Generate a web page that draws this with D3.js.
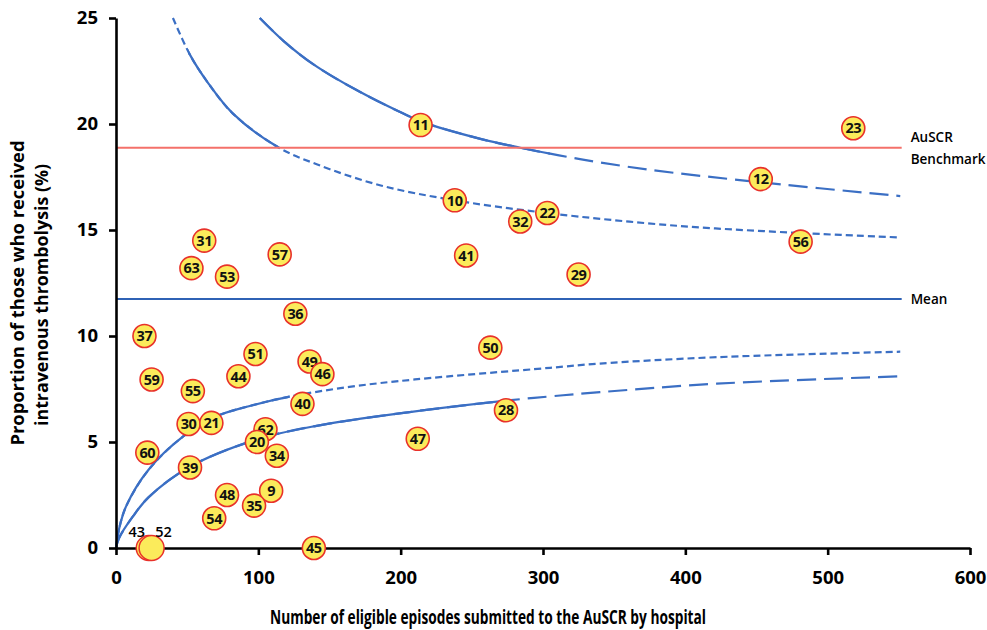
<!DOCTYPE html>
<html>
<meta charset="utf-8">
<style>
  body { margin: 0; background: #fff; }
  text { font-family: "Open Sans", "DejaVu Sans", sans-serif; }
</style>

<body>
  <svg></svg>
</body>

<script src="https://d3js.org/d3.v7.min.js"></script>

<script>

  var W = 987, H = 630;

  // hospitals: id, eligible episodes, % thrombolysed
  var hospitalIds = [11, 23, 12, 10, 22, 32, 56, 31, 63, 53, 57, 41, 29, 36, 37, 50, 51, 49, 46, 44,
    59, 55, 40, 28, 30, 21, 62, 20, 47, 60, 34, 39, 9, 48, 35, 54, 45];
  var episodes = [214, 518, 453, 238, 303, 284, 481, 62, 53, 78, 115, 246, 325, 126, 20, 263, 98, 136, 145, 86,
    25, 54, 131, 274, 51, 67, 105, 99, 212, 22, 113, 52, 109, 78, 97, 69, 139];
  var proportions = [19.95, 19.8, 17.4, 16.4, 15.8, 15.4, 14.45, 14.5, 13.2, 12.8, 13.85, 13.8, 12.9, 11.05, 10.0, 9.45, 9.15, 8.8, 8.2, 8.1,
    7.95, 7.4, 6.8, 6.5, 5.85, 5.9, 5.6, 5.0, 5.15, 4.5, 4.35, 3.8, 2.7, 2.5, 2.0, 1.4, 0];

  // the two zero-rate hospitals drawn together, labels above
  var zeroIds = [43, 52];
  var zeroEpisodes = [23, 25];

  var meanRate = 11.75;
  var benchmarkRate = 18.88;
  var refLineEnd = 552;

  // funnel limits [episodes, %]
  var upperOuter = [[101, 25.0], [118, 23.9], [139, 22.8], [169, 21.6], [200, 20.55], [215, 20.1], [256, 19.3],
    [284, 18.88], [305, 18.6], [328, 18.32], [375, 17.84], [453, 17.25], [551, 16.6]];
  var upperInner = [[40, 25.0], [52, 23.26], [64, 22.0], [82, 20.5], [114, 18.9], [141, 18.1], [186, 17.1],
    [238, 16.4], [303, 15.8], [394, 15.2], [483, 14.85], [551, 14.65]];
  var lowerInner = [[0, 0], [2, 0.85], [7, 1.95], [23, 3.7], [47, 5.25], [70, 6.2], [94, 6.7], [122, 7.14],
    [164, 7.6], [210, 7.95], [305, 8.5], [340, 8.7], [422, 9.0], [551, 9.26]];
  var lowerOuter = [[0, 0], [2, 0.45], [12, 1.5], [23, 2.4], [51, 3.8], [98, 5.1], [140, 5.75], [205, 6.4],
    [274, 6.95], [305, 7.15], [340, 7.35], [422, 7.75], [551, 8.1]];

  var xTicks = [0, 100, 200, 300, 400, 500, 600];
  var yTicks = [0, 5, 10, 15, 20, 25];

  var svg = d3.select("svg")
    .attr("width", W)
    .attr("height", H);

  var x = d3.scaleLinear().domain([0, 600]).range([116, 970]);
  var y = d3.scaleLinear().domain([0, 25]).range([548, 18]);

  var blue = "#3b6fc4";

  var line = d3.line()
    .x(d => x(d[0]))
    .y(d => y(d[1]))
    .curve(d3.curveCatmullRom.alpha(0.5));

  // dashed full curve, plus the same curve solid inside an x window
  var curves = [
    { pts: upperOuter, dash: "19,8", solid: [0, 305] },
    { pts: upperInner, dash: "7,4", solid: [52, 114] },
    { pts: lowerInner, dash: "7,4", solid: [0, 122] },
    { pts: lowerOuter, dash: "19,8", solid: [0, 274] }
  ];

  var defs = svg.append("defs");

  curves.forEach(function(c, i) {
    defs.append("clipPath").attr("id", "solid" + i)
      .append("rect")
      .attr("x", x(c.solid[0]) - 2).attr("y", 0)
      .attr("width", x(c.solid[1]) - x(c.solid[0]) + 2).attr("height", H);

    svg.append("path")
      .attr("d", line(c.pts))
      .attr("fill", "none")
      .attr("stroke", blue)
      .attr("stroke-width", 2.2)
      .attr("stroke-dasharray", c.dash);
    svg.append("path")
      .attr("d", line(c.pts))
      .attr("clip-path", "url(#solid" + i + ")")
      .attr("fill", "none")
      .attr("stroke", blue)
      .attr("stroke-width", 2.2);
  });

  // mean and benchmark
  svg.append("line")
    .attr("x1", x(0)).attr("x2", x(refLineEnd))
    .attr("y1", y(meanRate)).attr("y2", y(meanRate))
    .attr("stroke", "#2f62b5")
    .attr("stroke-width", 2);

  svg.append("line")
    .attr("x1", x(0)).attr("x2", x(refLineEnd))
    .attr("y1", y(benchmarkRate)).attr("y2", y(benchmarkRate))
    .attr("stroke", "#f4716a")
    .attr("stroke-width", 2);

  svg.append("text")
    .attr("x", x(refLineEnd) + 9).attr("y", y(benchmarkRate) - 6)
    .attr("font-size", 13.5).attr("font-weight", 600)
    .text("AuSCR");
  svg.append("text")
    .attr("x", x(refLineEnd) + 9).attr("y", y(benchmarkRate) + 16)
    .attr("font-size", 13.5).attr("font-weight", 600)
    .text("Benchmark");
  svg.append("text")
    .attr("x", x(refLineEnd) + 9).attr("y", y(meanRate) + 5)
    .attr("font-size", 13.5).attr("font-weight", 600)
    .text("Mean");

  // axes
  var xAxis = d3.axisBottom(x).tickValues(xTicks).tickSize(7).tickSizeOuter(0).tickPadding(16);
  var yAxis = d3.axisLeft(y).tickValues(yTicks).tickSize(7).tickSizeOuter(0).tickPadding(11);

  var gx = svg.append("g")
    .attr("transform", "translate(0," + y(0) + ")")
    .call(xAxis);
  var gy = svg.append("g")
    .attr("transform", "translate(" + x(0) + ",0)")
    .call(yAxis);

  [gx, gy].forEach(function(g) {
    g.select(".domain").attr("stroke", "#000").attr("stroke-width", 2.6);
    g.selectAll(".tick line").attr("stroke", "#000").attr("stroke-width", 2.6);
    g.selectAll(".tick text")
      .attr("fill", "#000")
      .attr("font-size", 18.5)
      .attr("font-weight", 700)
      .attr("font-family", "'Open Sans', sans-serif");
  });

  // zero-rate pair
  svg.selectAll(".zero")
    .data(zeroEpisodes)
    .enter().append("circle")
    .attr("cx", d => x(d))
    .attr("cy", y(0))
    .attr("r", 12.5)
    .attr("fill", "#fbeb5b")
    .attr("stroke", "#e8312a")
    .attr("stroke-width", 1.5);

  svg.selectAll(".zeroLabel")
    .data(zeroIds)
    .enter().append("text")
    .attr("x", (d, i) => x(zeroEpisodes[i]) + (i == 0 ? -12 : 12))
    .attr("y", y(0) - 11)
    .attr("text-anchor", "middle")
    .attr("font-size", 14.5)
    .attr("font-weight", 600)
    .text(d => d);

  // hospital points
  var pts = svg.selectAll(".pt")
    .data(hospitalIds)
    .enter().append("g")
    .attr("transform", (d, i) => "translate(" + x(episodes[i]) + "," + y(proportions[i]) + ")");

  pts.append("circle")
    .attr("r", 11.5)
    .attr("fill", "#fbeb5b")
    .attr("stroke", "#e8312a")
    .attr("stroke-width", 1.6);

  pts.append("text")
    .attr("text-anchor", "middle")
    .attr("dy", "0.36em")
    .attr("font-size", 14.5)
    .attr("font-weight", 700)
    .attr("letter-spacing", -0.4)
    .attr("fill", "#111")
    .text(d => d);

  // axis titles
  svg.append("text")
    .attr("x", 488).attr("y", 624)
    .attr("text-anchor", "middle")
    .attr("font-size", 19).attr("font-weight", 700)
    .attr("textLength", 436).attr("lengthAdjust", "spacingAndGlyphs")
    .text("Number of eligible episodes submitted to the AuSCR by hospital");

  svg.append("text")
    .attr("transform", "translate(24,293) rotate(-90)")
    .attr("text-anchor", "middle")
    .attr("font-size", 18.5).attr("font-weight", 700)
    .attr("textLength", 305).attr("lengthAdjust", "spacingAndGlyphs")
    .text("Proportion of those who received");
  svg.append("text")
    .attr("transform", "translate(48,295) rotate(-90)")
    .attr("text-anchor", "middle")
    .attr("font-size", 18.5).attr("font-weight", 700)
    .attr("textLength", 262).attr("lengthAdjust", "spacingAndGlyphs")
    .text("intravenous thrombolysis (%)");

</script>

</html>
